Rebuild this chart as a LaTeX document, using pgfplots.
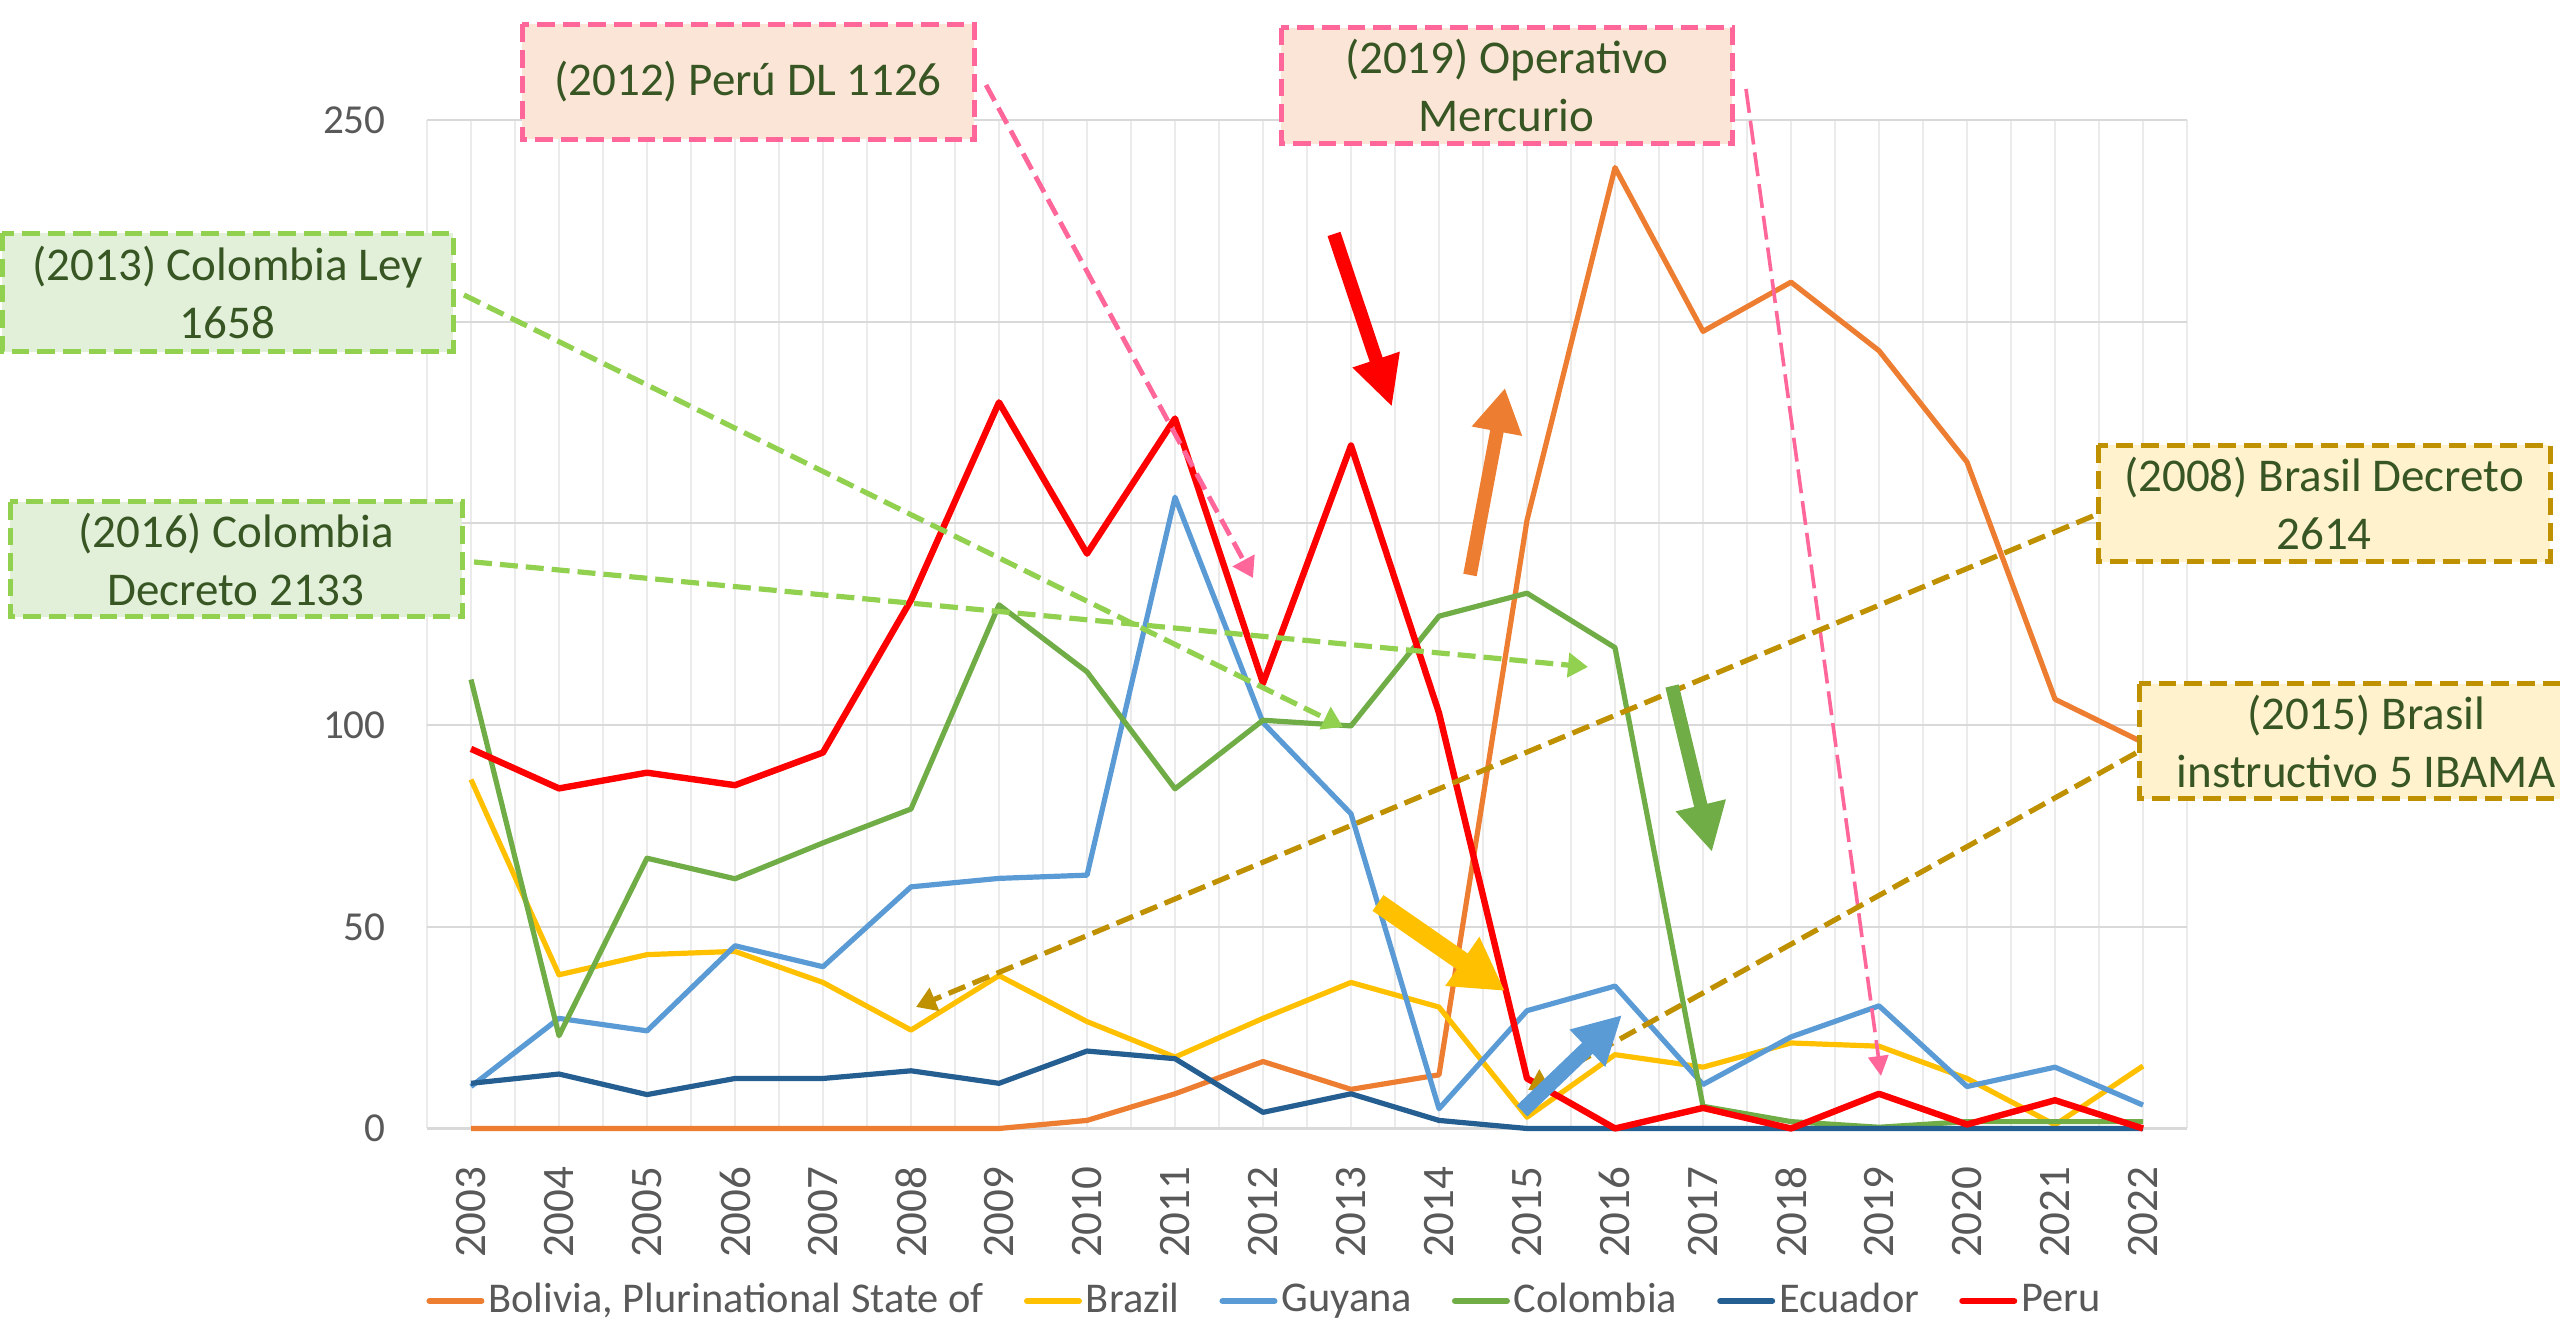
\documentclass[border=0pt]{standalone}
\usepackage{fontspec}
\setmainfont{Carlito}
\usepackage{pgfplots}
\pgfplotsset{compat=1.18}
\usetikzlibrary{arrows.meta}

\definecolor{bolivia}{HTML}{ED7D31}
\definecolor{brazil}{HTML}{FFC000}
\definecolor{guyana}{HTML}{5B9BD5}
\definecolor{colombia}{HTML}{70AD47}
\definecolor{ecuador}{HTML}{255E91}
\definecolor{peru}{HTML}{FF0000}
\definecolor{tickgray}{HTML}{595959}
\definecolor{gridc}{HTML}{D9D9D9}
\definecolor{vgrid}{HTML}{EBEBEB}
\definecolor{annot}{HTML}{375623}
\definecolor{pinkb}{HTML}{FF6699}
\definecolor{pinkf}{HTML}{FBE5D6}
\definecolor{greenb}{HTML}{92D050}
\definecolor{greenf}{HTML}{E2F0D9}
\definecolor{goldb}{HTML}{BF9000}
\definecolor{goldf}{HTML}{FFF2CC}

\newcommand{\annfont}{\fontsize{11.75}{14.5}\selectfont}

\begin{document}
\begin{tikzpicture}
\useasboundingbox (0,0) rectangle (640pt,331.25pt);
\begin{axis}[
  at={(106.75pt,49.125pt)}, anchor=south west,
  scale only axis, width=440pt, height=252.125pt,
  xmin=2002.5, xmax=2022.5, ymin=0, ymax=250,
  xtick={2003,2004,...,2022},
  minor xtick={2002.5,2003.5,...,2022.5},
  ytick={0,50,100,150,200,250},
  yticklabels={0,50,100,,,250},
  xmajorgrids, xminorgrids, ymajorgrids,
  major x grid style={draw=vgrid, line width=0.5pt},
  minor x grid style={draw=vgrid, line width=0.5pt},
  major y grid style={draw=gridc, line width=0.55pt},
  axis line style={draw=none},
  major tick length=0pt, minor tick length=0pt,
  /pgf/number format/assume math mode=true,
  /pgf/number format/1000 sep={},
  xticklabel style={rotate=90, anchor=east, font=\fontsize{11.25}{13}\selectfont, text=tickgray},
  xticklabel shift=6pt,
  yticklabel style={font=\fontsize{10.3}{12}\selectfont, text=tickgray},
  yticklabel shift=6.8pt,
  clip=false,
  legend columns=-1,
  legend style={at={(0.4764,-0.171)}, anchor=center, draw=none, fill=none,
    font=\fontsize{10.6}{12}\selectfont, text=tickgray, inner sep=0pt,
    column sep=0pt, nodes={inner sep=1pt},
    /tikz/every even column/.append style={column sep=9pt}},
  legend image code/.code={\draw[#1, line width=1.5pt, line cap=round] (0pt,0pt) -- (13pt,0pt);},
  every axis plot/.append style={line width=1.3pt, line join=round, mark=none},
]
\addplot[color=bolivia] coordinates {(2003,0) (2004,0) (2005,0) (2006,0) (2007,0) (2008,0) (2009,0) (2010,2) (2011,8.6) (2012,16.6) (2013,9.7) (2014,13.3) (2015,150.8) (2016,238.2) (2017,197.6) (2018,209.8) (2019,192.8) (2020,165.2) (2021,106.4) (2022,95.7)};
\addlegendentry{Bolivia, Plurinational State of}
\addplot[color=brazil] coordinates {(2003,86.5) (2004,38.1) (2005,43.1) (2006,43.9) (2007,36.2) (2008,24.4) (2009,37.9) (2010,26.5) (2011,17.7) (2012,27.3) (2013,36.2) (2014,30.1) (2015,2.8) (2016,18.3) (2017,15.2) (2018,21.2) (2019,20.4) (2020,12.4) (2021,0.9) (2022,15.5)};
\addlegendentry{Brazil}
\addplot[color=guyana] coordinates {(2003,10.4) (2004,27.3) (2005,24.2) (2006,45.3) (2007,40.1) (2008,59.9) (2009,62.0) (2010,62.8) (2011,156.5) (2012,100.6) (2013,78.0) (2014,4.9) (2015,29.2) (2016,35.3) (2017,10.9) (2018,22.7) (2019,30.4) (2020,10.4) (2021,15.2) (2022,5.8)};
\addlegendentry{Guyana}
\addplot[color=colombia] coordinates {(2003,111.3) (2004,23.0) (2005,67.0) (2006,61.9) (2007,70.8) (2008,79.2) (2009,129.8) (2010,113.2) (2011,84.2) (2012,101.2) (2013,99.8) (2014,127) (2015,132.7) (2016,119.2) (2017,5.5) (2018,1.7) (2019,0.3) (2020,1.7) (2021,1.7) (2022,1.7)};
\addlegendentry{Colombia}
\addplot[color=ecuador] coordinates {(2003,11.2) (2004,13.5) (2005,8.4) (2006,12.4) (2007,12.4) (2008,14.3) (2009,11.2) (2010,19.2) (2011,17.3) (2012,4.0) (2013,8.6) (2014,2.0) (2015,0) (2016,0) (2017,0) (2018,0) (2019,0) (2020,0) (2021,0) (2022,0)};
\addlegendentry{Ecuador}
\addplot[color=peru, line width=1.6pt] coordinates {(2003,94.1) (2004,84.3) (2005,88.2) (2006,85.1) (2007,93.2) (2008,131) (2009,180) (2010,142.5) (2011,176) (2012,110.4) (2013,169.3) (2014,103) (2015,12.4) (2016,0) (2017,5.1) (2018,0) (2019,8.6) (2020,1) (2021,7) (2022,0)};
\addlegendentry{Peru}
\end{axis}

\begin{scope}[shift={(0pt,331.25pt)}, x=0.25pt, y=-0.25pt]
% dashed pointer arrows
\draw[pinkb, line width=1.2pt, dash pattern=on 4.5pt off 2pt, -{Triangle[width=6pt,length=5pt]}] (986,85) -- (1253,578);
\draw[pinkb, line width=0.9pt, dash pattern=on 6pt off 2pt, -{Triangle[width=5pt,length=5pt]}] (1746,89) -- (1881,1076);
\draw[greenb, line width=1.3pt, dash pattern=on 4.5pt off 2pt, -{Triangle[width=6pt,length=5pt]}] (464,295) -- (1343,727);
\draw[greenb, line width=1.3pt, dash pattern=on 4.5pt off 2pt, -{Triangle[width=6pt,length=5pt]}] (474,562) -- (1588,667);
\draw[goldb, line width=1.3pt, dash pattern=on 4.5pt off 2pt, -{Triangle[width=6pt,length=5pt]}] (2093,516) -- (916,1007);
\draw[goldb, line width=1.3pt, dash pattern=on 4.5pt off 2pt, -{Triangle[width=6pt,length=5pt]}] (2136,753) -- (1528,1090);
% thick block arrows
\draw[peru, line width=3.4pt, -{Triangle[width=11.5pt,length=12.5pt]}] (1334,234) -- (1392,407);
\draw[bolivia, line width=3.4pt, -{Triangle[width=12pt,length=11pt]}] (1470,575) -- (1505,388);
\draw[colombia, line width=3.4pt, -{Triangle[width=12pt,length=12pt]}] (1672,686) -- (1712,852);
\draw[brazil, line width=4.8pt, -{Triangle[width=14pt,length=13pt]}] (1378,903) -- (1505,991);
\draw[guyana, line width=3.8pt, -{Triangle[width=12pt,length=12pt]}] (1522,1111) -- (1622,1015);
% boxes
\draw[draw=pinkb, fill=pinkf, line width=1.25pt, dash pattern=on 4.4pt off 2pt] (522,24.5) rectangle (974,139.3);
\node[text=annot, font=\annfont, align=center] at (748,82) {(2012) Perú DL 1126};
\draw[draw=pinkb, fill=pinkf, line width=1.25pt, dash pattern=on 4.4pt off 2pt] (1281,27.7) rectangle (1732,143.7);
\node[text=annot, font=\annfont, align=center] at (1506.5,85.7) {(2019) Operativo\\Mercurio};
\draw[draw=greenb, fill=greenf, line width=1.25pt, dash pattern=on 4.4pt off 2pt] (2,233.5) rectangle (453,351.8);
\node[text=annot, font=\annfont, align=center] at (227.5,292.6) {(2013) Colombia Ley\\1658};
\draw[draw=greenb, fill=greenf, line width=1.25pt, dash pattern=on 4.4pt off 2pt] (10,502) rectangle (462,617);
\node[text=annot, font=\annfont, align=center] at (236,559.5) {(2016) Colombia\\Decreto 2133};
\draw[draw=goldb, fill=goldf, line width=1.25pt, dash pattern=on 4.4pt off 2pt] (2098,445.5) rectangle (2550,561.6);
\node[text=annot, font=\annfont, align=center] at (2324,503.5) {(2008) Brasil Decreto\\2614};
\draw[draw=goldb, fill=goldf, line width=1.25pt, dash pattern=on 4.4pt off 2pt] (2139,684) rectangle (2593,799);
\node[text=annot, font=\annfont, align=center] at (2366,741.5) {(2015) Brasil\\instructivo 5 IBAMA};
\end{scope}
\end{tikzpicture}
\end{document}
